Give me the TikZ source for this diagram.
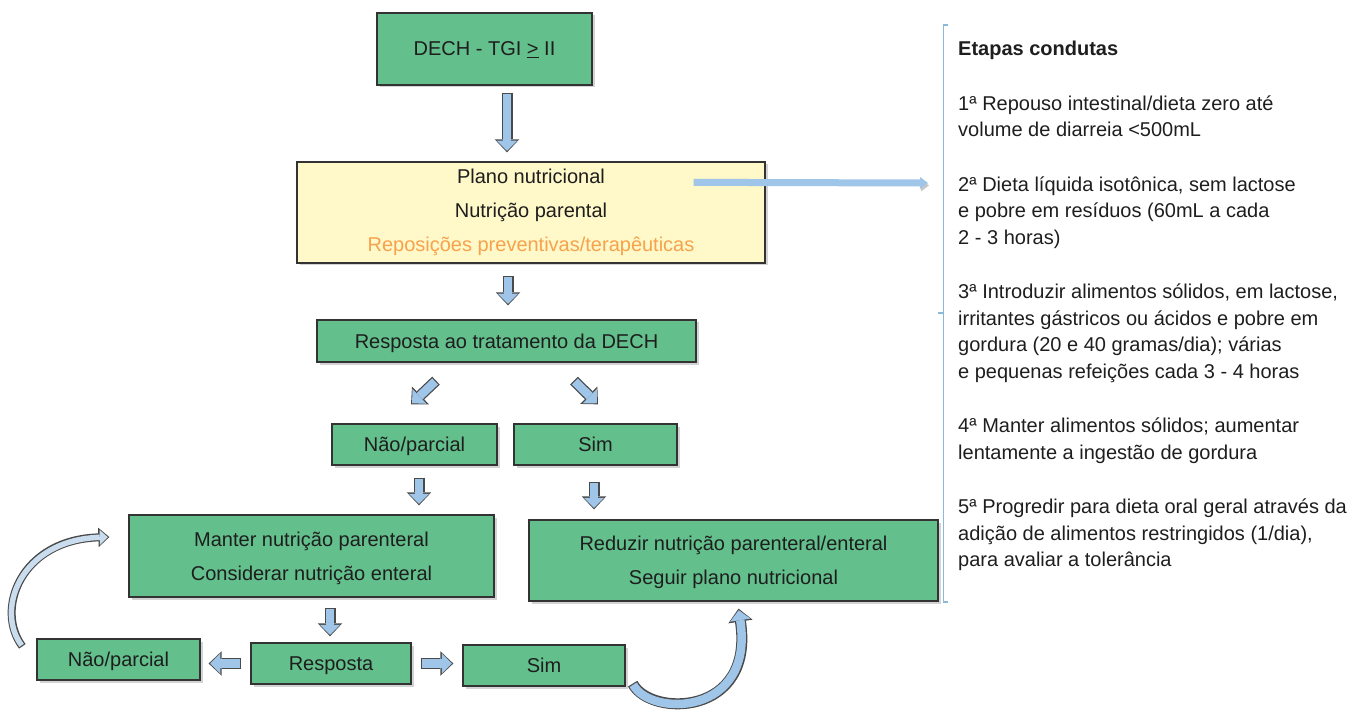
\documentclass[tikz,border=0pt]{standalone}
\usepackage{fontspec}
\setmainfont{Liberation Sans}
\usepackage{xcolor}
\definecolor{boxc}{HTML}{63BF8C}
\definecolor{yelc}{HTML}{FFF8C9}
\definecolor{linec}{HTML}{333333}
\definecolor{arrc}{HTML}{9FC5E8}
\definecolor{arrlc}{HTML}{C9DDEE}
\definecolor{arrline}{HTML}{4A4A4A}
\definecolor{orac}{HTML}{F7A24C}
\definecolor{brkc}{HTML}{8DB9D8}
\definecolor{txtc}{HTML}{1E1E1E}
\usetikzlibrary{arrows.meta,calc,shadows}
\tikzset{
  x=1pt,y=-1pt,
  box/.style={draw=linec,line width=1.3pt,fill=boxc,inner sep=0pt,text=txtc,align=center,text depth=0pt,
    font=\fontsize{20}{34}\selectfont,drop shadow={shadow xshift=2.5pt,shadow yshift=-2.5pt,opacity=.35}},
  ybox/.style={box,fill=yelc,text depth=5pt},
  blk/.style={draw=arrc,line width=8.5pt,shorten >=1.6pt,shorten <=1.2pt,
    -{Triangle[length=10pt,width=20.5pt,line width=0pt]},
    preaction={draw=arrline,line width=11pt,shorten >=0pt,shorten <=0pt,
      -{Triangle[length=13pt,width=24.5pt,line width=0pt]}}},
  cblk/.style={draw=arrlc,line width=5.5pt,shorten >=1.6pt,shorten <=1.2pt,
    -{Triangle[length=8pt,width=15pt,line width=0pt]},
    preaction={draw=arrline,line width=8pt,shorten >=0pt,shorten <=0pt,
      -{Triangle[length=11pt,width=19.5pt,line width=0pt]}}},
  larr/.style={draw=arrc,line width=7pt,-{Triangle[length=8pt,width=12pt,line width=0pt]},
    preaction={draw=black!22,transform canvas={shift={(1pt,-2.5pt)}}}},
  brk/.style={draw=brkc,line width=1.5pt},
  note/.style={font=\fontsize{20}{26.5}\selectfont,text=txtc,align=left,inner sep=0pt},
}

\begin{document}
\begin{tikzpicture}
  \useasboundingbox (0,0) rectangle (1355,711);
  % left flow
  \node[box,minimum width=215pt,minimum height=72pt] (dech) at (484.5,49) {DECH - TGI \underline{>} II};
  \node[ybox,minimum width=468pt,minimum height=101pt] (plano) at (531,212.5)
    {Plano nutricional\\Nutrição parental\\\textcolor{orac}{Reposições preventivas/terapêuticas}};
  \node[box,minimum width=379pt,minimum height=42pt] (resp) at (506.5,341) {Resposta ao tratamento da DECH};
  \node[box,minimum width=165pt,minimum height=41pt] (nao) at (414.5,444.5) {Não/parcial};
  \node[box,minimum width=163pt,minimum height=41pt] (sim) at (595.5,444.5) {Sim};
  \node[box,minimum width=365pt,minimum height=82pt] (manter) at (311.5,556)
    {Manter nutrição parenteral\\Considerar nutrição enteral};
  \node[box,minimum width=409pt,minimum height=81pt] (reduzir) at (733.5,560.5)
    {Reduzir nutrição parenteral/enteral\\Seguir plano nutricional};
  \node[box,minimum width=163pt,minimum height=41pt] (naob) at (118.5,659.5) {Não/parcial};
  \node[box,minimum width=160pt,minimum height=41pt] (respb) at (331,663.5) {Resposta};
  \node[box,minimum width=162pt,minimum height=41pt] (simb) at (544,665.5) {Sim};

  \draw[blk] ($(dech.south)+(22.5,7)$) -- ($(plano.north)+(-24,-9)$);
  \draw[blk] ($(plano.south)+(-23,12)$) -- ($(resp.north)+(1.5,-14)$);
  \draw[blk] ($(resp.south)+(-70.5,18)$) -- ($(nao.north)+(-3.5,-19)$);
  \draw[blk] ($(resp.south)+(67.5,18)$) -- ($(sim.north)+(2.5,-19)$);
  \draw[blk] ($(nao.south)+(4.5,12)$) -- ($(nao.south |- manter.north)+(4.5,-9)$);
  \draw[blk] ($(sim.south)+(-1.5,16)$) -- ($(sim.south |- reduzir.north)+(-1.5,-10)$);
  \draw[blk] ($(respb.north |- manter.south)+(-1,10)$) -- ($(respb.north)+(-1,-6)$);
  \draw[blk] ($(respb.west)+(-9,0)$) -- ($(naob.east |- respb.west)+(8,0)$);
  \draw[blk] ($(respb.east)+(9,0)$) -- ($(simb.west |- respb.east)+(-9,0)$);

  % loops back
  \draw[cblk] ($(naob.north west)+(-14,8)$) .. controls (-5,610) and (20,540) .. ($(manter.west)+(-19,-19)$);
  \draw[blk] ($(simb.south east)+(7,-3)$) .. controls (650,717) and (755,717) .. ($(reduzir.south)+(5,7)$);

  % steps
  \node[note,anchor=north west] (etapas) at (958,41) {\textbf{Etapas condutas}\\[28pt]
    1ª Repouso intestinal/dieta zero até\\volume de diarreia <500mL\\[28pt]
    2ª Dieta líquida isotônica, sem lactose\\e pobre em resíduos (60mL a cada\\2 - 3 horas)\\[28pt]
    3ª Introduzir alimentos sólidos, em lactose,\\irritantes gástricos ou ácidos e pobre em\\gordura (20 e 40 gramas/dia); várias\\e pequenas refeições cada 3 - 4 horas\\[28pt]
    4ª Manter alimentos sólidos; aumentar\\lentamente a ingestão de gordura\\[28pt]
    5ª Progredir para dieta oral geral através da\\adição de alimentos restringidos (1/dia),\\para avaliar a tolerância};
  \coordinate (pend) at (928,183);
  \draw[larr] ($(plano.north east)+(-72,21)$) -- (pend);
  \draw[brk] (948,25) -- (943.5,25) -- (943.5,602) -- (948,602);
  \draw[brk] (943.5,313) -- (938,313);
\end{tikzpicture}
\end{document}
